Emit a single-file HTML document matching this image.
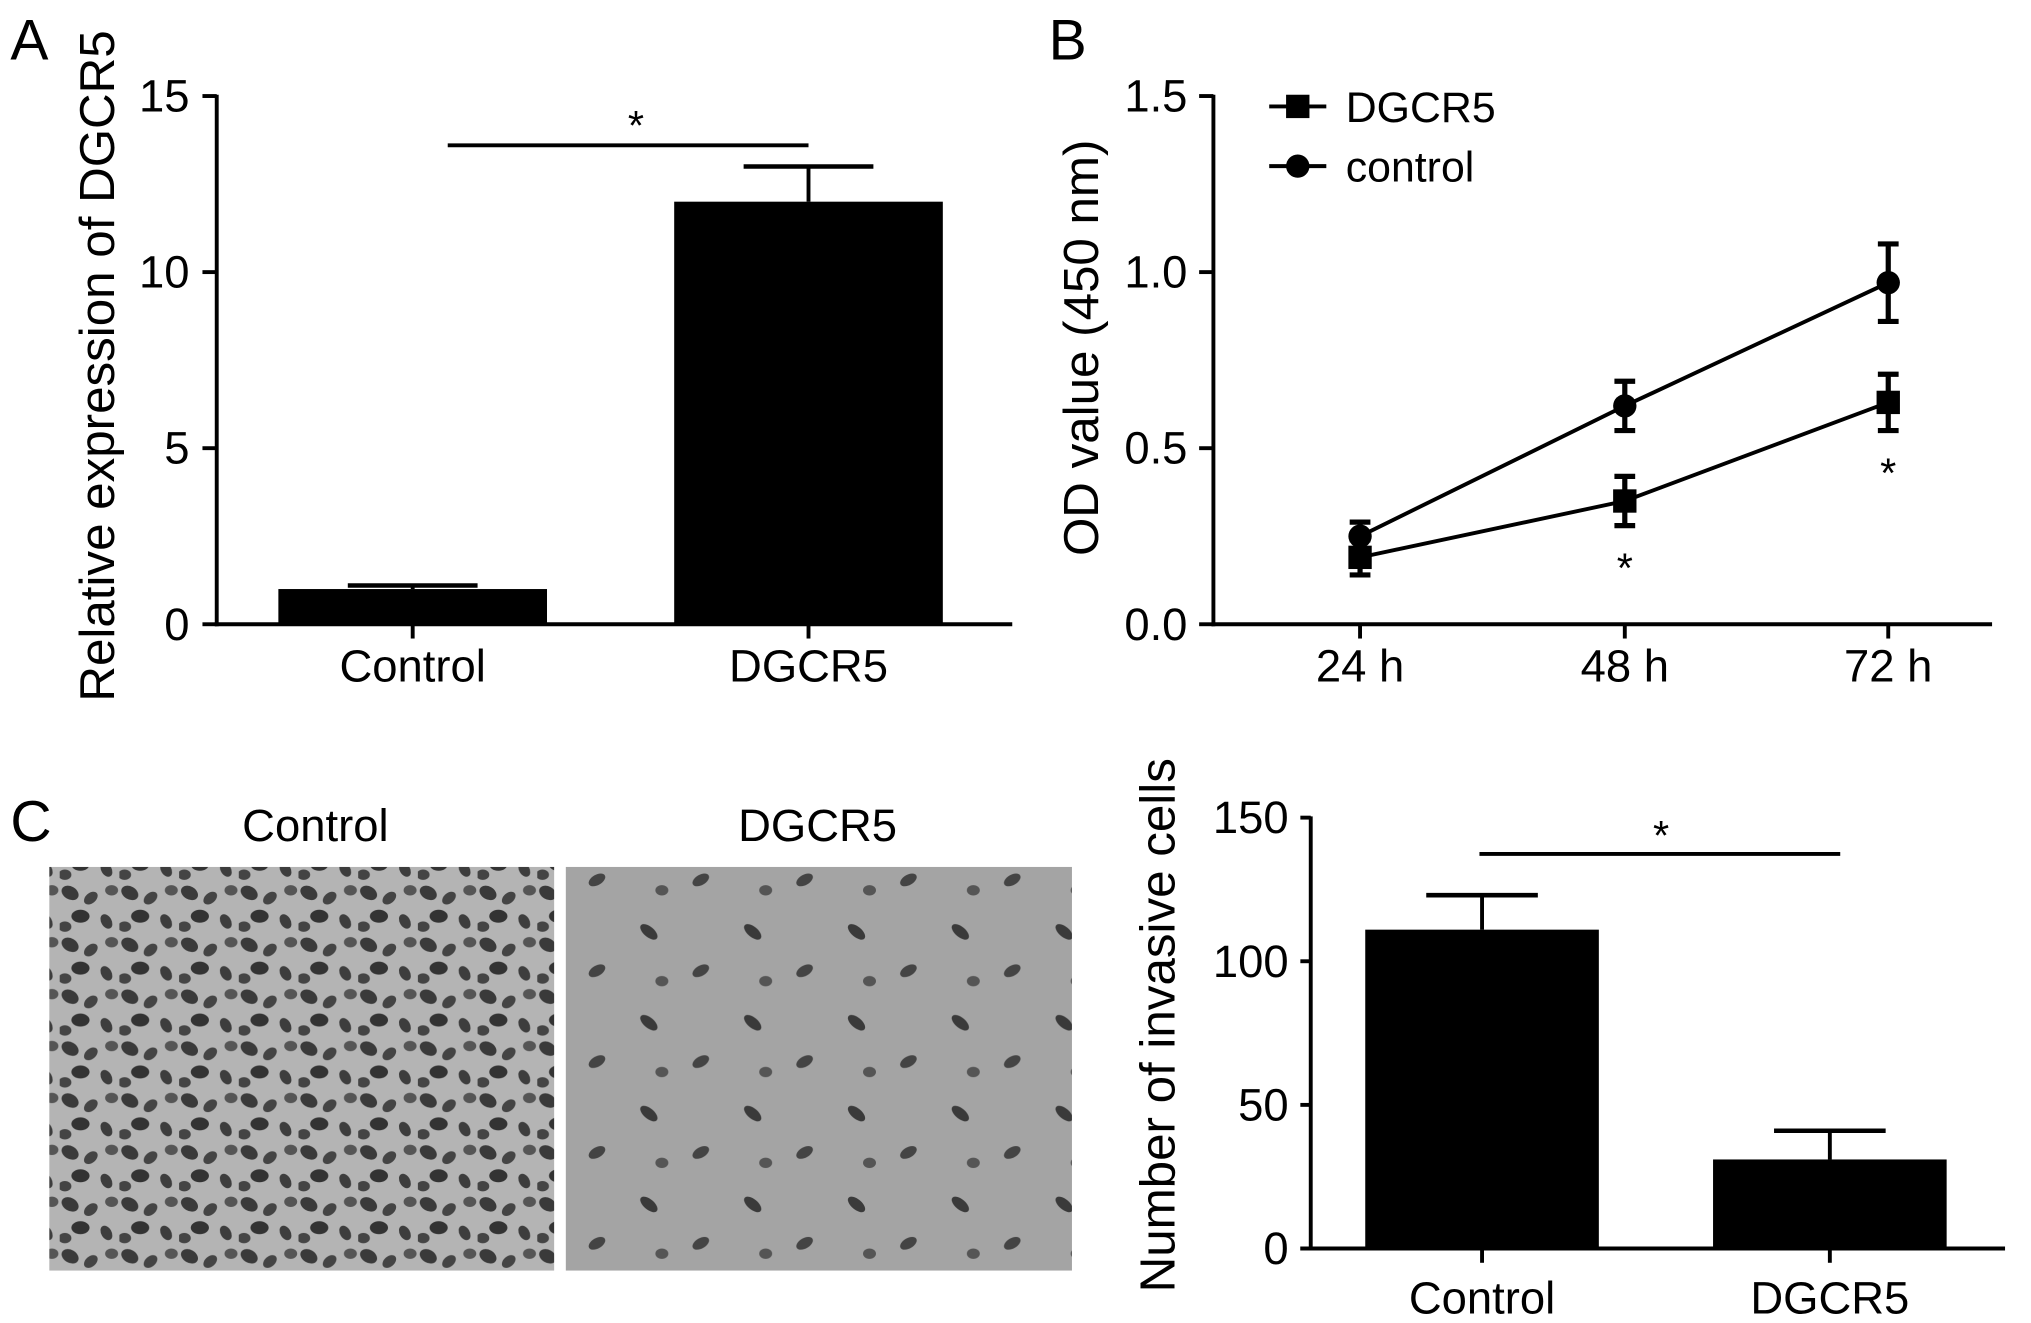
<!DOCTYPE html>
<html><head><meta charset="utf-8">
<style>
html,body{margin:0;padding:0;background:#fff;}
svg{display:block;}
text{font-family:"Liberation Sans",sans-serif;fill:#000;}
</style></head>
<body>
<svg id="fig" width="2031" height="1323" viewBox="0 0 1565 1019.4" preserveAspectRatio="none" xmlns="http://www.w3.org/2000/svg">
<defs>
<pattern id="cellsA" width="46" height="40" patternUnits="userSpaceOnUse">
<rect width="46" height="40" fill="#b4b4b4"/>
<ellipse cx="8" cy="8" rx="7" ry="5" fill="#3a3a3a" transform="rotate(30 8 8)"/>
<ellipse cx="24" cy="12" rx="6" ry="4" fill="#444" transform="rotate(-40 24 12)"/>
<ellipse cx="16" cy="26" rx="7" ry="5" fill="#333"/>
<ellipse cx="36" cy="30" rx="6" ry="4" fill="#3d3d3d" transform="rotate(60 36 30)"/>
<ellipse cx="40" cy="6" rx="5" ry="4" fill="#555"/>
<ellipse cx="4" cy="34" rx="5" ry="4" fill="#444"/>
</pattern>
<pattern id="cellsB" width="80" height="70" patternUnits="userSpaceOnUse">
<rect width="80" height="70" fill="#a4a4a4"/>
<ellipse cx="20" cy="18" rx="8" ry="4" fill="#3a3a3a" transform="rotate(40 20 18)"/>
<ellipse cx="60" cy="48" rx="7" ry="4" fill="#444" transform="rotate(-30 60 48)"/>
<ellipse cx="30" cy="56" rx="5" ry="4" fill="#555"/>
</pattern>
</defs>

<g id="panelA"></g>
<g id="panelB"></g>
<g>
<text x="8" y="648" font-size="44">C</text>
<text x="243" y="648" font-size="35" text-anchor="middle">Control</text>
<text x="630" y="648" font-size="35" text-anchor="middle">DGCR5</text>
<rect x="38" y="668" width="389" height="311" fill="url(#cellsA)"/>
<rect x="436" y="668" width="390" height="311" fill="url(#cellsB)"/>
</g>
<g id="panelC"></g>
</svg>
<script>
const NS="http://www.w3.org/2000/svg";
// Panel A data
const aCats=["Control","DGCR5"];
const aVals=[1.0,12.0];
const aErr=[0.1,1.0];
const aTicks=[0,5,10,15];
// Panel B data
const bCats=["24 h","48 h","72 h"];
const bDGCR5=[0.19,0.35,0.63];
const bDGCR5Err=[0.05,0.07,0.08];
const bControl=[0.25,0.62,0.97];
const bControlErr=[0.04,0.07,0.11];
const bTicks=["0.0","0.5","1.0","1.5"];
// Panel C data
const cCats=["Control","DGCR5"];
const cVals=[111,31];
const cErr=[12,10];
const cTicks=[0,50,100,150];

function el(parent,tag,attrs,txt){const e=document.createElementNS(NS,tag);for(const k in attrs)e.setAttribute(k,attrs[k]);if(txt!==undefined)e.textContent=txt;parent.appendChild(e);return e;}
function line(p,x1,y1,x2,y2,w,name){const l=el(p,"line",{x1,y1,x2,y2,stroke:"#000","stroke-width":w});

return l;}
function txt(p,x,y,s,size,anchor,name,extra){const t=el(p,"text",Object.assign({x,y,"font-size":size,"text-anchor":anchor},extra||{}),s);

return t;}

// ---------- Panel A ----------
(function(){
const g=document.getElementById("panelA");
const x0=167,x1=780,yTop=74,yBot=481,vmax=15;
const y=v=>yBot-(v/vmax)*(yBot-yTop);
const centers=[318,623],bw=207;
txt(g,8,46,"A",44,"start","panel-a-label");
line(g,x0,yTop-1,x0,yBot+1.5,3,"y-axis");
line(g,x0-1.5,yBot,x1,yBot,3,"x-axis");
aTicks.forEach(v=>{line(g,x0-11,y(v),x0,y(v),3,"y-tick");
txt(g,146,y(v)+12,String(v),35,"end","y-tick-label");});
aCats.forEach((c,i)=>{
 const cx=centers[i];
 const r=el(g,"rect",{x:cx-bw/2,y:y(aVals[i]),width:bw,height:yBot-y(aVals[i]),fill:"#000"});
 
 
 line(g,cx,y(aVals[i]),cx,y(aVals[i]+aErr[i]),3,"error-bar");
 line(g,cx-50,y(aVals[i]+aErr[i]),cx+50,y(aVals[i]+aErr[i]),3.5,"error-cap");
 line(g,cx,yBot,cx,yBot+11,3,"x-tick");
 txt(g,cx,525,c,35,"middle","x-tick-label");
});
line(g,345,112,623,112,3,"significance-line");
txt(g,490,108,"*",32,"middle","significance-star");
txt(g,0,0,"Relative expression of DGCR5",38,"middle","y-axis-title",{transform:"translate(88,282) rotate(-90)"});
})();

// ---------- Panel B ----------
(function(){
const g=document.getElementById("panelB");
const x0=935,x1=1535,yTop=74,yBot=481,vmax=1.5;
const y=v=>yBot-(v/vmax)*(yBot-yTop);
const xs=[1048,1252,1455];
txt(g,808,46,"B",44,"start","panel-b-label");
line(g,x0,yTop-1,x0,yBot+1.5,3,"y-axis");
line(g,x0-1.5,yBot,x1,yBot,3,"x-axis");
bTicks.forEach(t=>{const v=parseFloat(t);line(g,x0-11,y(v),x0,y(v),3,"y-tick");
txt(g,915,y(v)+12,t,35,"end","y-tick-label");});
bCats.forEach((c,i)=>{line(g,xs[i],yBot,xs[i],yBot+11,3,"x-tick");txt(g,xs[i],525,c,35,"middle","x-tick-label");});
function series(vals,errs,shape,name){
 const pts=vals.map((v,i)=>xs[i]+","+y(v)).join(" ");
 const pl=el(g,"polyline",{points:pts,fill:"none",stroke:"#000","stroke-width":3});
 
 
 vals.forEach((v,i)=>{
  const cx=xs[i];
  line(g,cx,y(v-errs[i]),cx,y(v+errs[i]),4,name+"-error-bar");
  line(g,cx-8,y(v+errs[i]),cx+8,y(v+errs[i]),4,name+"-error-cap");
  line(g,cx-8,y(v-errs[i]),cx+8,y(v-errs[i]),4,name+"-error-cap");
  let m;
  if(shape==="square") m=el(g,"rect",{x:cx-9,y:y(v)-9,width:18,height:18,fill:"#000"});
  else m=el(g,"circle",{cx:cx,cy:y(v),r:9,fill:"#000"});
  
  
 });
}
series(bControl,bControlErr,"circle","control");
series(bDGCR5,bDGCR5Err,"square","dgcr5");
txt(g,xs[1],y(bDGCR5[1]-bDGCR5Err[1])+44,"*",32,"middle","significance-star");
txt(g,xs[2],y(bDGCR5[2]-bDGCR5Err[2])+44,"*",32,"middle","significance-star");
line(g,978,82,1022,82,3,"legend-dgcr5-line");
const sq=el(g,"rect",{x:991,y:73,width:18,height:18,fill:"#000"});


txt(g,1037,94,"DGCR5",33,"start","legend-dgcr5-label");
line(g,978,128,1022,128,3,"legend-control-line");
const ci=el(g,"circle",{cx:1000,cy:128,r:9,fill:"#000"});


txt(g,1037,140,"control",33,"start","legend-control-label");
txt(g,0,0,"OD value (450 nm)",38,"middle","y-axis-title",{transform:"translate(846,268) rotate(-90)"});
})();

// ---------- Panel C chart ----------
(function(){
const g=document.getElementById("panelC");
const x0=1010,x1=1545,yTop=630,yBot=962,vmax=150;
const y=v=>yBot-(v/vmax)*(yBot-yTop);
const centers=[1142,1410],bw=180;
line(g,x0,yTop-1,x0,yBot+1.5,3,"y-axis");
line(g,1002,yBot,x1,yBot,3,"x-axis");
cTicks.forEach(v=>{line(g,x0-8,y(v),x0,y(v),3,"y-tick");
txt(g,993,y(v)+12,String(v),35,"end","y-tick-label");});
cCats.forEach((c,i)=>{
 const cx=centers[i];
 const r=el(g,"rect",{x:cx-bw/2,y:y(cVals[i]),width:bw,height:yBot-y(cVals[i]),fill:"#000"});
 
 
 line(g,cx,y(cVals[i]),cx,y(cVals[i]+cErr[i]),3,"error-bar");
 line(g,cx-43,y(cVals[i]+cErr[i]),cx+43,y(cVals[i]+cErr[i]),3.5,"error-cap");
 line(g,cx,yBot,cx,yBot+11,3,"x-tick");
 txt(g,cx,1012,c,35,"middle","x-tick-label");
});
line(g,1140,658,1418,658,3,"significance-line");
txt(g,1280,655,"*",32,"middle","significance-star");
txt(g,0,0,"Number of invasive cells",38,"middle","y-axis-title",{transform:"translate(905,790) rotate(-90)"});
})();
</script>
</body></html>
